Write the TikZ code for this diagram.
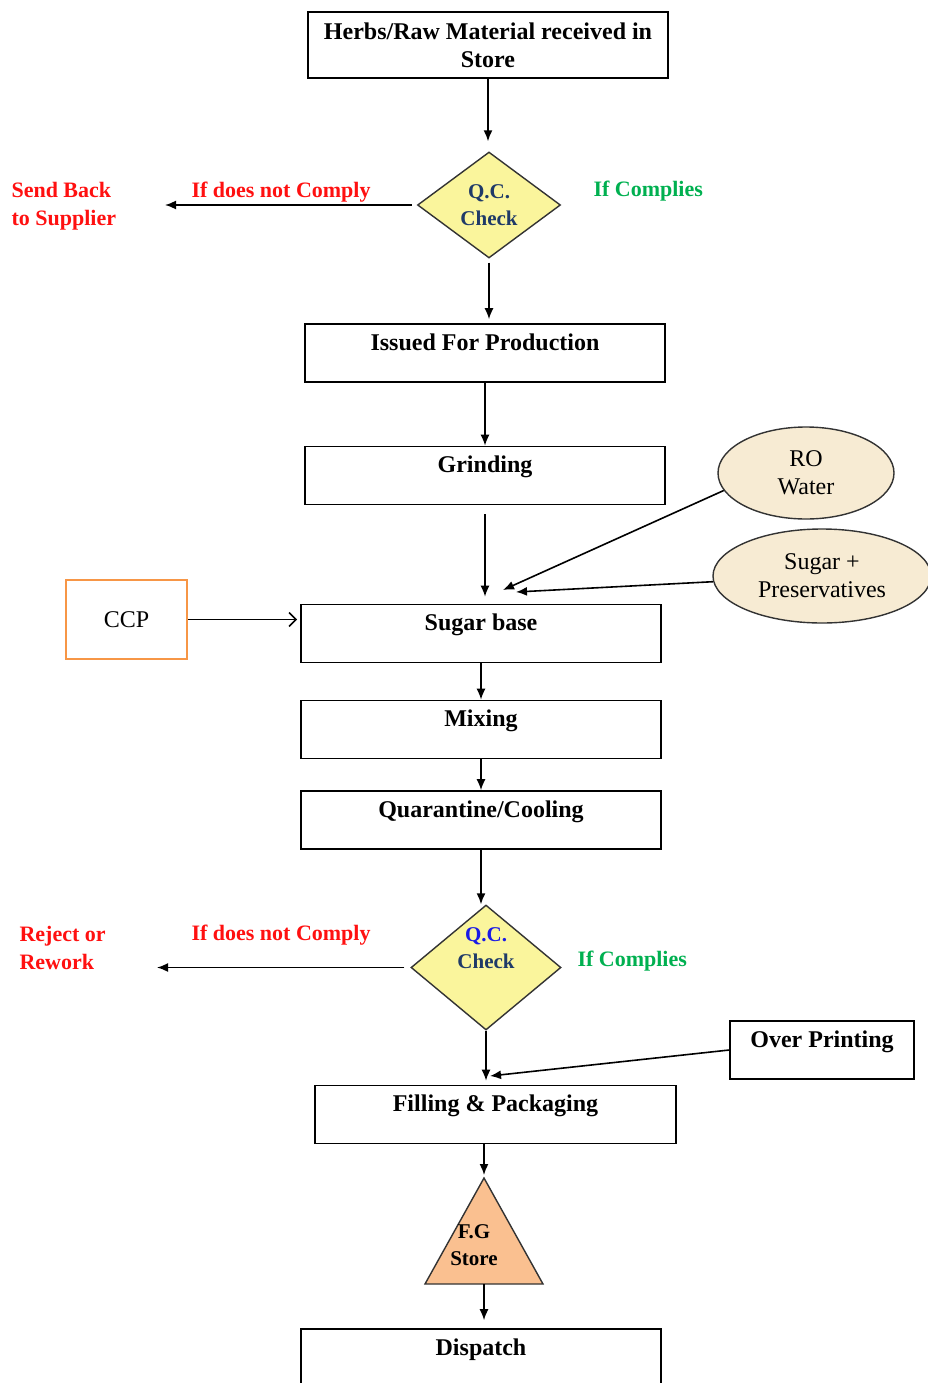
\documentclass[tikz,border=0pt]{standalone}
\usepackage{fontspec}
\setmainfont{Liberation Serif}
\usetikzlibrary{arrows.meta,shapes.geometric,positioning,calc}

\definecolor{qcfill}{HTML}{FAF59C}
\definecolor{qcnavy}{HTML}{1F3A68}
\definecolor{qcblue}{HTML}{1A1AE6}
\definecolor{inputfill}{HTML}{F7EBD3}
\definecolor{storefill}{HTML}{FAC090}
\definecolor{ccporange}{HTML}{F79646}
\definecolor{failred}{HTML}{FF1010}
\definecolor{passgreen}{HTML}{00B050}

\begin{document}
\begin{tikzpicture}[x=1pt,y=-1pt,
  boxfont/.style={font=\bfseries\fontsize{24}{28}\selectfont},
  stepbox/.style={draw, line width=1.6pt, boxfont, minimum width=360, inner ysep=0, text height=26, text depth=32},
  qcdiamond/.style={diamond, draw=black!80, line width=1.4pt, fill=qcfill, inner sep=0, minimum width=143, minimum height=106},
  qctext/.style={align=center, font=\bfseries\fontsize{21}{27}\selectfont, text=qcnavy},
  inputoval/.style={ellipse, draw=black!80, line width=1.4pt, fill=inputfill, inner sep=0, align=center, font=\fontsize{24}{28}\selectfont},
  failnote/.style={text=failred, font=\bfseries\fontsize{22}{28}\selectfont, align=left},
  passnote/.style={text=passgreen, font=\bfseries\fontsize{22}{28}\selectfont},
  flow/.style={line width=1.6pt, -{Latex[length=11pt,width=9pt]}}]
\useasboundingbox (0,0) rectangle (928,1383);
% Main column
\node[draw, line width=1.6pt, boxfont, minimum width=360, minimum height=66, align=center] (herbs) at (488,45) {Herbs/Raw Material received in\\Store};
\node[qcdiamond] (qcone) at (489,205) {};
\node[qctext] (qconetxt) at (qcone.center) {Q.C.\\Check};
\node[stepbox] (issued) at (485,353) {Issued For Production};
\node[stepbox] (grind) at (485,475.5) {Grinding};
\node[stepbox] (sugarbase) at (481,633.5) {Sugar base};
\node[stepbox] (mixing) at (481,729.5) {Mixing};
\node[stepbox] (quar) at (481,820) {Quarantine/Cooling};
\node[qcdiamond, minimum width=150, minimum height=125] (qctwo) at (486,967.5) {};
\node[qctext] (qctwotxt) at (486,948) {\textcolor{qcblue}{Q.C.}\\Check};
\node[stepbox, minimum width=361] (filling) at (495.5,1114.5) {Filling \& Packaging};
\node[stepbox] (dispatch) at (481,1358) {Dispatch};
% F.G store triangle
\coordinate (fgapex) at (484,1178);
\coordinate (fgleft) at (425,1284);
\coordinate (fgright) at (543,1284);
\coordinate (fgbase) at (484,1284);
\draw[line width=1.4pt, draw=black!80, fill=storefill] (fgapex) -- (fgright) -- (fgleft) -- cycle;
\node[qctext, text=black] (fgtxt) at (474,1245) {F.G\\Store};
% Side inputs
\node[inputoval, minimum width=176, minimum height=92] (rowater) at (806,473) {RO\\Water};
\node[inputoval, minimum width=218, minimum height=94] (sugarpres) at (822,576) {Sugar +\\Preservatives};
\node[draw=ccporange, line width=2.8pt, minimum width=121, minimum height=79, font=\fontsize{24}{28}\selectfont] (ccp) at (126.5,619.5) {CCP};
\node[stepbox, minimum width=184] (overprint) at (822,1050) {Over Printing};
% Decision notes
\node[failnote, anchor=west] (failone) at (188,192) {If does not Comply};
\node[failnote, anchor=west] (sendback) at (8,206) {Send Back\\to Supplier};
\node[passnote, anchor=west] (passone) at (590,191) {If Complies};
\node[failnote, anchor=west] (failtwo) at (188,935) {If does not Comply};
\node[failnote, anchor=west] (reject) at (16,948) {Reject or\\Rework};
\node[passnote, anchor=west] (passtwo) at (574,961) {If Complies};
% Arrow ends
\coordinate (sendtip) at (165,205);
\coordinate (rejecttip) at (157,967.5);
\coordinate (rotip) at (503,590);
\coordinate (sugartip) at (516,592);
\coordinate (overtip) at (490,1076);
% Connectors
\draw[flow, shorten >=10pt] (herbs.south) -- (herbs.south |- qcone.north);
\draw[flow, shorten <=5pt] (qcone.west) -- (sendtip);
\draw[flow, shorten <=4pt, shorten >=4pt] (qcone.south) -- (qcone.south |- issued.north);
\draw[flow] (issued.south) -- (issued.south |- grind.north);
\draw[flow, shorten <=9pt, shorten >=7pt] (grind.south) -- (grind.south |- sugarbase.north);
\draw[flow] (rowater.192) -- (rotip);
\draw[flow] (sugarpres) -- (sugartip);
\draw[line width=1.6pt, -{Straight Barb[length=7pt,width=14pt]}, shorten >=3pt] (ccp.east) -- (ccp.east -| sugarbase.west);
\draw[flow] (sugarbase.south) -- (sugarbase.south |- mixing.north);
\draw[flow] (mixing.south) -- (mixing.south |- quar.north);
\draw[flow] (quar.south) -- (quar.south |- qctwo.north);
\draw[flow, shorten <=6pt] (qctwo.west) -- (rejecttip);
\draw[flow, shorten >=4pt] (qctwo.south) -- (qctwo.south |- filling.north);
\draw[flow] (overprint.west) -- (overtip);
\draw[flow, shorten >=3pt] (fgapex |- filling.south) -- (fgapex);
\draw[flow, shorten >=8pt] (fgbase) -- (fgbase |- dispatch.north);
\end{tikzpicture}
\end{document}
